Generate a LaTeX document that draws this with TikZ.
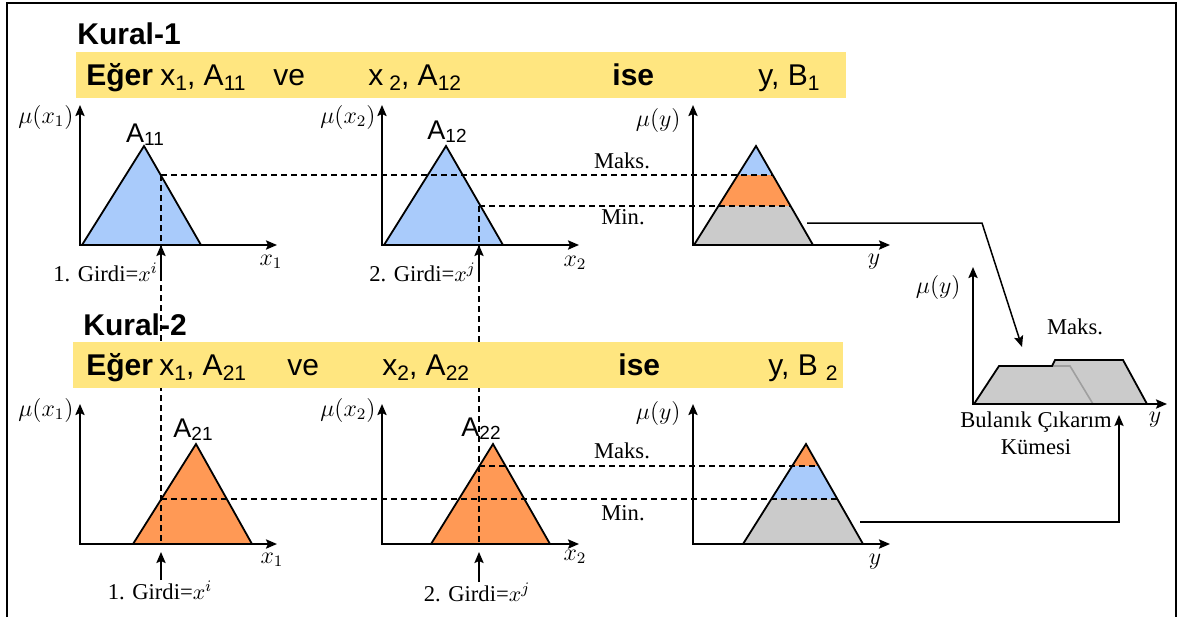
\documentclass[tikz,border=0pt]{standalone}
\usepackage{amsmath,amssymb}
\usepackage{fontspec}
\setmainfont{Liberation Serif}
\newfontfamily\arialfont{Liberation Sans}
\usepackage{tikz}
\usetikzlibrary{arrows.meta,positioning}
\usepackage{xcolor}
\definecolor{bandyellow}{HTML}{FFE680}
\definecolor{mfblue}{HTML}{A9CBFB}
\definecolor{mforange}{HTML}{FF9955}
\definecolor{mfgray}{HTML}{CBCBCB}
\newcommand{\bandidx}[1]{\raisebox{-2.6pt}{\fontsize{10.5}{12}\selectfont #1}}
\newcommand{\setidx}[1]{\raisebox{-1.8pt}{\fontsize{9.5}{11}\selectfont #1}}

\begin{document}
\begin{tikzpicture}[x=0.5pt, y=-0.5pt,
			>={Stealth[length=5.5pt, width=4.6pt, inset=1pt]},
			axis/.style={line width=1pt, <->},
			mf/.style={draw, line width=0.9pt, line join=miter},
			guide/.style={line width=0.7pt, dash pattern=on 3pt off 2pt},
			link/.style={line width=0.75pt, ->},
			inarrow/.style={line width=0.9pt, ->},
			rulehead/.style={font=\arialfont\bfseries\fontsize{15}{18}\selectfont,
				anchor=base west, inner sep=0pt},
			bandtext/.style={font=\arialfont\fontsize{15}{18}\selectfont,
				anchor=base west, inner sep=0pt},
			setname/.style={font=\arialfont\fontsize{13.5}{15}\selectfont,
				anchor=base, inner sep=0pt},
			mulabel/.style={font=\fontsize{11.5}{13}\selectfont, anchor=east, inner sep=1pt},
			axlabel/.style={font=\fontsize{11.5}{13}\selectfont, inner sep=0pt},
			note/.style={font=\fontsize{11.3}{13.5}\selectfont, inner sep=0pt}
		]
		\useasboundingbox (0,0) rectangle (1182,617);
		\draw[line width=1pt] (7,617) -- (7,3) -- (1176,3) -- (1176,617);

		\fill[bandyellow] (76,52) rectangle (846,98);
		\node[rulehead] (kural1) at (77,44) {Kural-1};
		\node[rulehead] (eger1) at (86,85) {Eğer};
		\node[bandtext] (if11) at (160,85) {x\bandidx{1}, A\bandidx{11}};
		\node[bandtext] (ve1) at (273,85) {ve};
		\node[bandtext] (if12) at (368,85) {x\hspace{3pt}\bandidx{2}, A\bandidx{12}};
		\node[rulehead] (ise1) at (612,85) {ise};
		\node[bandtext] (then1) at (758,85) {y, B\bandidx{1}};

		\filldraw[mf, fill=mfblue] (82,245) -- (144,146) -- (201,245) -- cycle;
		\filldraw[mf, fill=mfblue] (384,245) -- (446,146) -- (503,245) -- cycle;
		\begin{scope}
			\clip (694,245) -- (756,146) -- (813,245) -- cycle;
			\fill[mfgray] (690,140) rectangle (820,250);
			\fill[mforange] (690,140) rectangle (820,206);
			\fill[mfblue] (690,140) rectangle (820,175);
		\end{scope}
		\draw[mf] (694,245) -- (756,146) -- (813,245) -- cycle;

		\filldraw[mf, fill=mforange] (133,544) -- (196,444) -- (252,544) -- cycle;
		\filldraw[mf, fill=mforange] (431,544) -- (493,444) -- (550,544) -- cycle;
		\begin{scope}
			\clip (743,544) -- (806,444) -- (863,544) -- cycle;
			\fill[mfgray] (740,440) rectangle (870,550);
			\fill[mfblue] (740,440) rectangle (870,499);
			\fill[mforange] (740,440) rectangle (870,466);
		\end{scope}
		\draw[mf] (743,544) -- (806,444) -- (863,544) -- cycle;

		\fill[mfgray] (974,404) -- (999,366) -- (1070,366) -- (1093,404) -- cycle;
		\fill[mfgray] (1031,404) -- (1055,360) -- (1123,360) -- (1147,404) -- cycle;
		\draw[gray!75, line width=0.8pt] (1052,366) -- (1070,366) -- (1093,404);
		\draw[mf] (974,404) -- (999,366) -- (1052,366) -- (1055,360) -- (1123,360) -- (1147,404);

		\foreach \ox/\oy in {80/245, 382/245, 693/245, 80/544, 382/544, 693/544}
			\draw[axis] (\ox,\oy-140) -- (\ox,\oy) -- (\ox+197,\oy);
		\draw[axis] (973,267) -- (973,404) -- (1167,404);

		\coordinate (xi) at (161,245);
		\coordinate (xj) at (479,245);
		\draw[guide] (161,175) -- (773,175);
		\draw[guide] (479,206) -- (790,206);
		\draw[guide] (161,175) -- (161,544);
		\draw[guide] (479,206) -- (479,544);
		\draw[guide] (161,499) -- (838,499);
		\draw[guide] (479,466) -- (819,466);

		\fill[bandyellow] (73,342) rectangle (843,388);
		\node[rulehead] (kural2) at (83,335) {Kural-2};
		\node[rulehead] (eger2) at (86,375) {Eğer};
		\node[bandtext] (if21) at (159,375) {x\bandidx{1}, A\bandidx{21}};
		\node[bandtext] (ve2) at (287,375) {ve};
		\node[bandtext] (if22) at (382,375) {x\bandidx{2}, A\bandidx{22}};
		\node[rulehead] (ise2) at (618,375) {ise};
		\node[bandtext] (then2) at (768,375) {y, B\hspace{4pt}\bandidx{2}};

		\node[setname] (a11) at (145,142) {A\setidx{11}};
		\node[setname] (a12) at (447,139) {A\setidx{12}};
		\node[setname] (a21) at (193,437) {A\setidx{21}};
		\node[setname] (a22) at (481,436) {A\setidx{22}};

		\node[mulabel] (mu11) at (76,117) {$\mu(x_1)$};
		\node[mulabel] (mu12) at (378,117) {$\mu(x_2)$};
		\node[mulabel] (mu13) at (683,120) {$\mu(y)$};
		\node[mulabel] (mu21) at (76,410) {$\mu(x_1)$};
		\node[mulabel] (mu22) at (378,410) {$\mu(x_2)$};
		\node[mulabel] (mu23) at (683,413) {$\mu(y)$};
		\node[mulabel] (muagg) at (963,287) {$\mu(y)$};

		\node[axlabel] (ax11) at (271,262) {$x_1$};
		\node[axlabel] (ax12) at (575,263) {$x_2$};
		\node[axlabel] (ax13) at (874,262) {$y$};
		\node[axlabel] (ax21) at (272,560) {$x_1$};
		\node[axlabel] (ax22) at (575,557) {$x_2$};
		\node[axlabel] (ax23) at (875,562) {$y$};
		\node[axlabel] (axagg) at (1155,420) {$y$};

		\node[note, anchor=east] (g11) at (158,272) {1. Girdi=$x^i$};
		\node[note, anchor=east] (g12) at (476,272) {2. Girdi=$x^j$};
		\node[note] (g21) at (160,590) {1. Girdi=$x^i$};
		\node[note] (g22) at (477,592) {2. Girdi=$x^j$};
		\draw[inarrow] (161,276) -- (xi);
		\draw[inarrow] (479,276) -- (xj);
		\draw[inarrow] (g21.north -| xi) -- (161,552);
		\draw[inarrow] (g22.north -| xj) -- (479,552);

		\node[note] (maks1) at (622,161) {Maks.};
		\node[note] (min1) at (623,217) {Min.};
		\node[note] (maks2) at (622,451) {Maks.};
		\node[note] (min2) at (623,513) {Min.};
		\node[note] (maksagg) at (1075,327) {Maks.};
		\node[note, align=center] (bck) at (1036,433) {Bulanık Çıkarım\\Kümesi};

		\coordinate (out1) at (807,223);
		\coordinate (agg1) at (1022,347);
		\coordinate (out2) at (860,522);
		\coordinate (agg2) at (1119,415);
		\draw[link] (out1) -- (982,223) -- (agg1);
		\draw[link] (out2) -| (agg2);
		\end{tikzpicture}
\end{document}
